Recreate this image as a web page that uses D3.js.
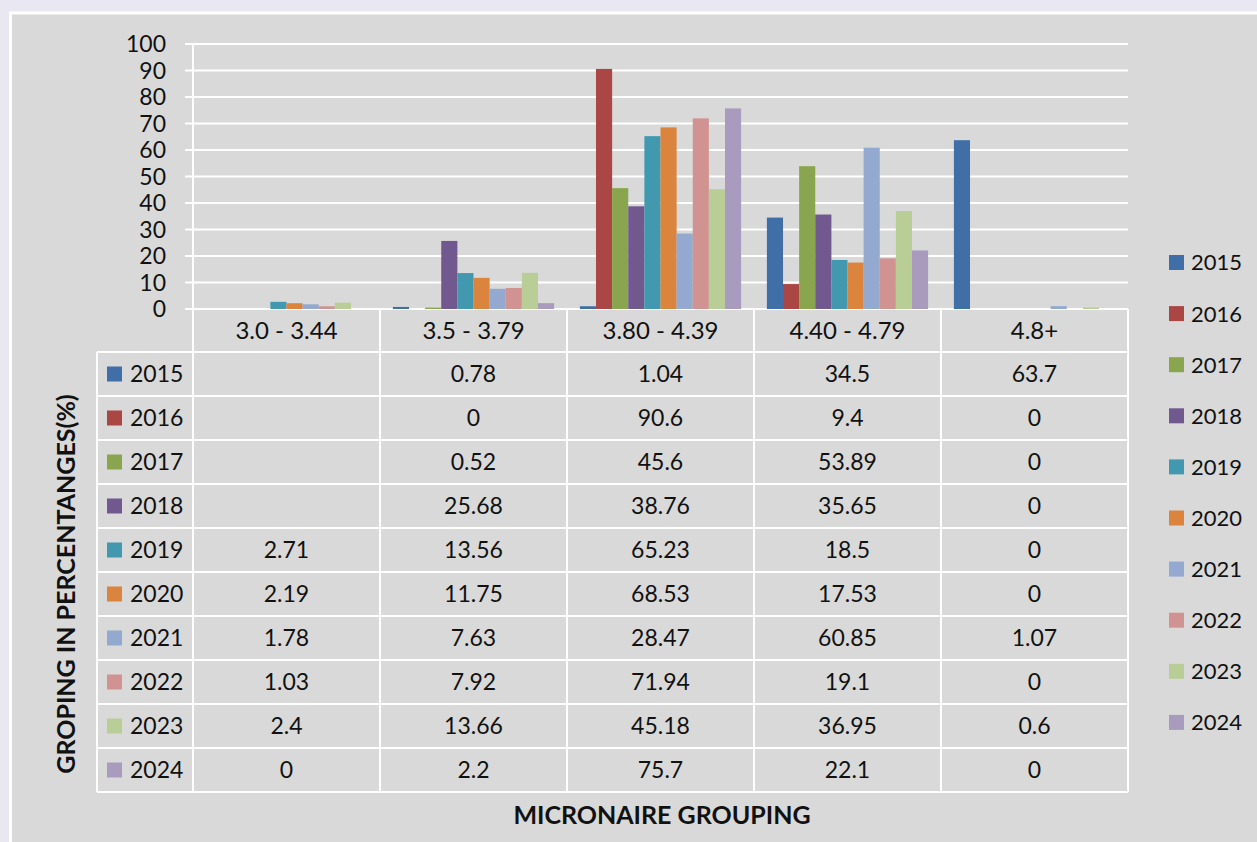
<!DOCTYPE html>
<html>
<head>
<meta charset="utf-8">
<script src="https://cdn.jsdelivr.net/npm/d3@7"></script>
<style>
  body { margin: 0; background: #e9e8f2; }
  svg text { font-family: Lato, "Open Sans", sans-serif; fill: #111; }
</style>
</head>
<body>
<div id="chart"></div>
<script>
// categories (micronaire groups) and the years shown
var categories = ["3.0 - 3.44", "3.5 - 3.79", "3.80 - 4.39", "4.40 - 4.79", "4.8+"];
var years = ["2015", "2016", "2017", "2018", "2019", "2020", "2021", "2022", "2023", "2024"];

// values per year, one per category (null = blank cell in the table)
var v2015 = [null, 0.78, 1.04, 34.5, 63.7];
var v2016 = [null, 0, 90.6, 9.4, 0];
var v2017 = [null, 0.52, 45.6, 53.89, 0];
var v2018 = [null, 25.68, 38.76, 35.65, 0];
var v2019 = [2.71, 13.56, 65.23, 18.5, 0];
var v2020 = [2.19, 11.75, 68.53, 17.53, 0];
var v2021 = [1.78, 7.63, 28.47, 60.85, 1.07];
var v2022 = [1.03, 7.92, 71.94, 19.1, 0];
var v2023 = [2.4, 13.66, 45.18, 36.95, 0.6];
var v2024 = [0, 2.2, 75.7, 22.1, 0];

var yTicks = [0, 10, 20, 30, 40, 50, 60, 70, 80, 90, 100];

var seriesValues = [v2015, v2016, v2017, v2018, v2019, v2020, v2021, v2022, v2023, v2024];
var colors = ["#3f6fa6", "#aa4643", "#89a54e", "#71588f", "#4198af",
              "#db843d", "#93a9cf", "#d19392", "#b9cd96", "#a99bbd"];

var W = 1257, H = 842;
var plotL = 193, plotR = 1128, plotT = 44, plotB = 309;
var headH = 43, rowH = 44, tableL = 97;
var tableTop = plotB + headH;
var tableBot = tableTop + rowH * years.length;

var svg = d3.select("#chart").append("svg")
  .attr("width", W).attr("height", H);

// chart area with white frame
svg.append("rect").attr("x", 10.5).attr("y", 13).attr("width", W).attr("height", H)
  .attr("fill", "#d9d9d9").attr("stroke", "#fff").attr("stroke-width", 3);

var x = d3.scaleBand().domain(categories).range([plotL, plotR]).padding(0);
var xs = d3.scaleBand().domain(years).range([0, x.bandwidth()]).paddingInner(0).paddingOuter(0.8);
var y = d3.scaleLinear().domain([0, 100]).range([plotB, plotT]);

// gridlines
svg.append("g").selectAll("line").data(yTicks).join("line")
  .attr("x1", plotL - 8).attr("x2", plotR)
  .attr("y1", function (d) { return y(d); }).attr("y2", function (d) { return y(d); })
  .attr("stroke", "#fff").attr("stroke-width", 2);

// y axis line
svg.append("line").attr("x1", plotL).attr("x2", plotL).attr("y1", plotT).attr("y2", tableBot)
  .attr("stroke", "#fff").attr("stroke-width", 2);

// y tick labels
svg.append("g").selectAll("text").data(yTicks).join("text")
  .attr("x", 166).attr("y", function (d) { return y(d); })
  .attr("dy", "0.36em").attr("text-anchor", "end")
  .style("font-size", "23px")
  .text(function (d) { return d; });

// bars
var barData = [];
seriesValues.forEach(function (vals, si) {
  vals.forEach(function (v, ci) {
    if (v != null) barData.push({ year: years[si], cat: categories[ci], value: v, color: colors[si] });
  });
});
svg.append("g").selectAll("rect").data(barData).join("rect")
  .attr("x", function (d) { return x(d.cat) + xs(d.year); })
  .attr("width", xs.bandwidth())
  .attr("y", function (d) { return y(d.value); })
  .attr("height", function (d) { return plotB - y(d.value); })
  .attr("fill", function (d) { return d.color; });

// table lines
var tl = svg.append("g").attr("stroke", "#fff").attr("stroke-width", 2);
categories.forEach(function (c) {
  tl.append("line").attr("x1", x(c) + x.bandwidth()).attr("x2", x(c) + x.bandwidth())
    .attr("y1", plotB).attr("y2", tableBot);
});
tl.append("line").attr("x1", tableL).attr("x2", tableL).attr("y1", tableTop).attr("y2", tableBot);
d3.range(years.length + 1).forEach(function (i) {
  tl.append("line").attr("x1", tableL).attr("x2", plotR)
    .attr("y1", tableTop + i * rowH).attr("y2", tableTop + i * rowH);
});

// header labels
svg.append("g").selectAll("text").data(categories).join("text")
  .attr("x", function (d) { return x(d) + x.bandwidth() / 2; })
  .attr("y", plotB + headH / 2).attr("dy", "0.36em")
  .attr("text-anchor", "middle").style("font-size", "24px")
  .text(function (d) { return d; });

// rows
var rows = svg.append("g").selectAll("g").data(years).join("g")
  .attr("transform", function (d, i) { return "translate(0," + (tableTop + i * rowH + rowH / 2) + ")"; });
rows.append("rect").attr("x", 107).attr("y", -7.5).attr("width", 15).attr("height", 15)
  .attr("fill", function (d, i) { return colors[i]; });
rows.append("text").attr("x", 130).attr("dy", "0.36em").style("font-size", "23px")
  .text(function (d) { return d; });
rows.each(function (yr, si) {
  d3.select(this).selectAll("text.val").data(seriesValues[si]).join("text")
    .attr("class", "val")
    .attr("x", function (d, ci) { return x(categories[ci]) + x.bandwidth() / 2; })
    .attr("dy", "0.36em").attr("text-anchor", "middle").style("font-size", "23px")
    .text(function (d) { return d == null ? "" : d; });
});

// legend
var lg = svg.append("g").selectAll("g").data(years).join("g")
  .attr("transform", function (d, i) { return "translate(1169," + (262.5 + i * 51.1) + ")"; });
lg.append("rect").attr("y", -7.5).attr("width", 15).attr("height", 15)
  .attr("fill", function (d, i) { return colors[i]; });
lg.append("text").attr("x", 22).attr("dy", "0.36em").style("font-size", "22px")
  .text(function (d) { return d; });

// axis titles
svg.append("text").attr("transform", "translate(66,584) rotate(-90)")
  .attr("dy", "0.36em").attr("text-anchor", "middle")
  .style("font-size", "25px").style("font-weight", "bold")
  .text("GROPING IN PERCENTANGES(%)");
svg.append("text").attr("x", 662).attr("y", 815).attr("dy", "0.36em")
  .attr("text-anchor", "middle").style("font-size", "25px").style("font-weight", "bold")
  .text("MICRONAIRE GROUPING");
</script>
</body>
</html>
